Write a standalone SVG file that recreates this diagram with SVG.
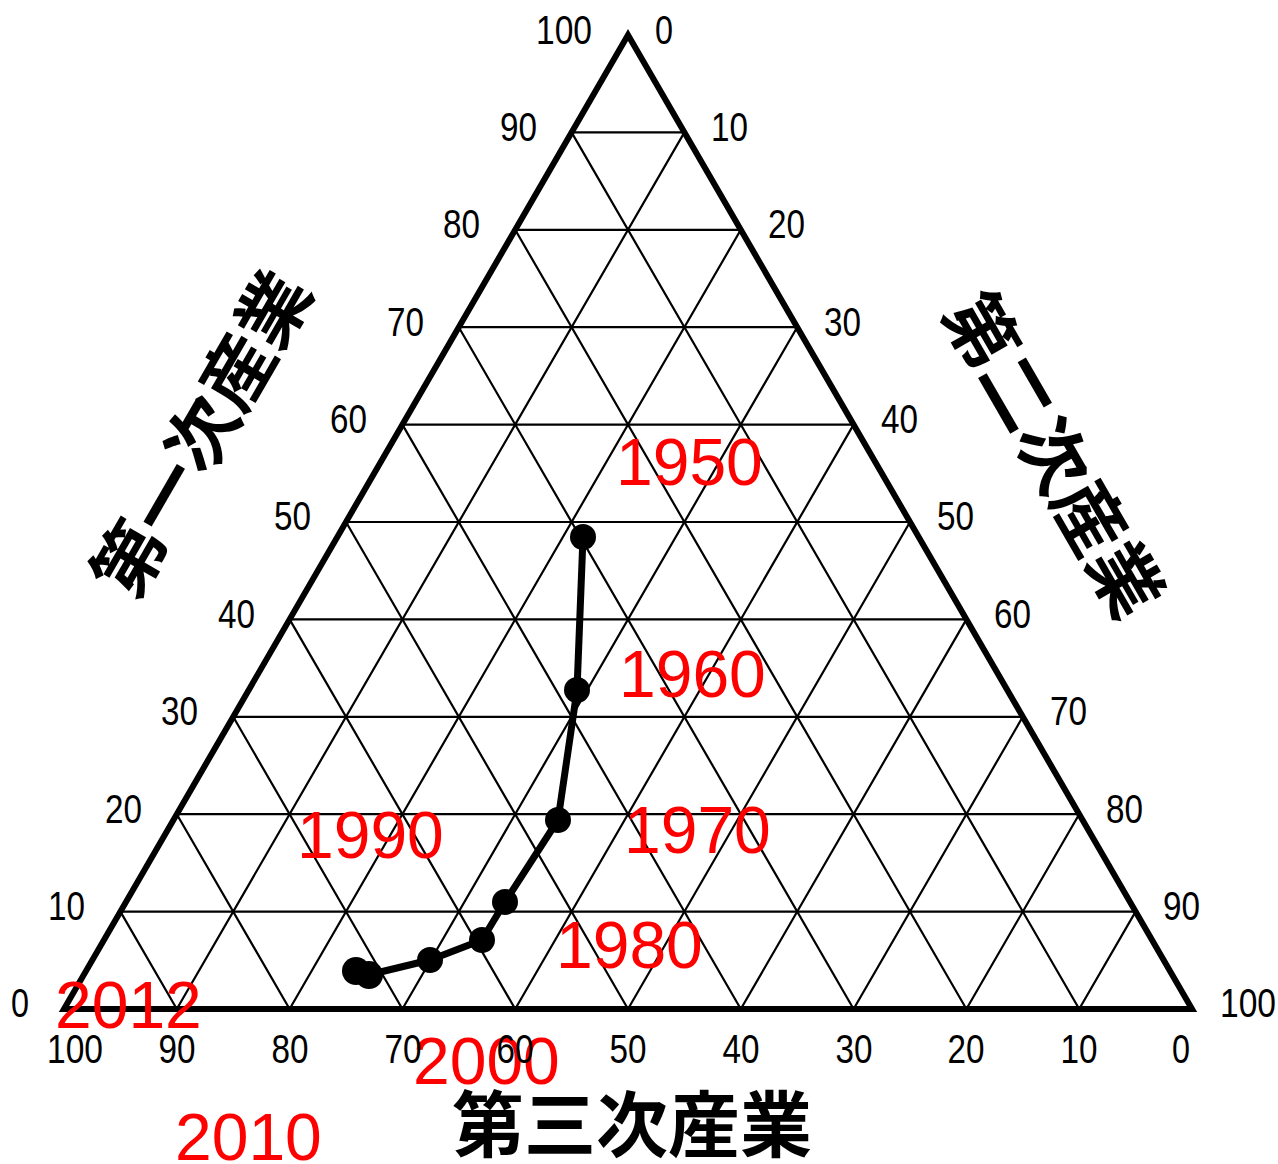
<svg xmlns="http://www.w3.org/2000/svg" width="1278" height="1164" viewBox="0 0 1278 1164">
<style>
.grid{stroke:#000;stroke-width:2.2;fill:none}
.edge{stroke:#000;stroke-width:6;fill:none;stroke-linejoin:miter;stroke-miterlimit:10}
.data{stroke:#000;stroke-width:7;fill:none;stroke-linejoin:round}
.pt{fill:#000}
.tick{font-family:"Liberation Sans",Arial,sans-serif;font-size:40px;fill:#000}
.yr{font-family:"Liberation Sans",Arial,sans-serif;font-size:66px;fill:#ff0000}
.ttl{font-family:"Noto Sans CJK JP","Noto Sans CJK SC",sans-serif;font-size:72px;font-weight:700;fill:#000}
</style>
<rect width="1278" height="1164" fill="#fff"/>
<g id="connectors">
<g id="grid">
<path class="grid" d="M571.6,132.4H684.4M515.2,229.8H740.8M458.8,327.2H797.2M402.4,424.6H853.6M346,522H910M289.6,619.4H966.4M233.2,716.8H1022.8M176.8,814.2H1079.2M120.4,911.6H1135.6"/>
<path class="grid" d="M176.8,1009L684.4,132.4M289.6,1009L740.8,229.8M402.4,1009L797.2,327.2M515.2,1009L853.6,424.6M628,1009L910,522M740.8,1009L966.4,619.4M853.6,1009L1022.8,716.8M966.4,1009L1079.2,814.2M1079.2,1009L1135.6,911.6"/>
<path class="grid" d="M176.8,1009L120.4,911.6M289.6,1009L176.8,814.2M402.4,1009L233.2,716.8M515.2,1009L289.6,619.4M628,1009L346,522M740.8,1009L402.4,424.6M853.6,1009L458.8,327.2M966.4,1009L515.2,229.8M1079.2,1009L571.6,132.4"/>
</g>
<polygon id="frame" class="edge" points="628,35 1192,1009 64,1009"/>
<polyline id="trend" class="data" points="583,537 577,690 558,820 505,902 482,940 430,960 368,975 356,971"/>
</g>
<g id="points">
<circle class="pt" cx="583" cy="537" r="13"/>
<circle class="pt" cx="577" cy="690" r="13"/>
<circle class="pt" cx="558" cy="820" r="13"/>
<circle class="pt" cx="505" cy="902" r="13"/>
<circle class="pt" cx="482" cy="940" r="13"/>
<circle class="pt" cx="430" cy="960" r="13"/>
<circle class="pt" cx="369" cy="975" r="14"/>
<circle class="pt" cx="356" cy="971" r="14"/>
</g>
<g id="years">
<text class="yr" x="616" y="485">1950</text>
<text class="yr" x="619" y="697">1960</text>
<text class="yr" x="624" y="853">1970</text>
<text class="yr" x="556" y="968">1980</text>
<text class="yr" x="297" y="858">1990</text>
<text class="yr" x="413" y="1084">2000</text>
<text class="yr" x="175" y="1160">2010</text>
<text class="yr" x="55" y="1028">2012</text>
</g>
<g id="left-ticks" class="tick" text-anchor="end" lengthAdjust="spacingAndGlyphs">
<text x="592" y="44" textLength="56" lengthAdjust="spacingAndGlyphs">100</text>
<text x="537" y="141" textLength="37" lengthAdjust="spacingAndGlyphs">90</text>
<text x="480" y="238" textLength="37" lengthAdjust="spacingAndGlyphs">80</text>
<text x="424" y="336" textLength="37" lengthAdjust="spacingAndGlyphs">70</text>
<text x="367" y="433" textLength="37" lengthAdjust="spacingAndGlyphs">60</text>
<text x="311" y="530" textLength="37" lengthAdjust="spacingAndGlyphs">50</text>
<text x="255" y="628" textLength="37" lengthAdjust="spacingAndGlyphs">40</text>
<text x="198" y="725" textLength="37" lengthAdjust="spacingAndGlyphs">30</text>
<text x="142" y="823" textLength="37" lengthAdjust="spacingAndGlyphs">20</text>
<text x="85" y="920" textLength="37" lengthAdjust="spacingAndGlyphs">10</text>
<text x="29" y="1017" textLength="18" lengthAdjust="spacingAndGlyphs">0</text>
</g>
<g id="right-ticks" class="tick" text-anchor="start">
<text x="655" y="44" textLength="18" lengthAdjust="spacingAndGlyphs">0</text>
<text x="711" y="141" textLength="37" lengthAdjust="spacingAndGlyphs">10</text>
<text x="768" y="238" textLength="37" lengthAdjust="spacingAndGlyphs">20</text>
<text x="824" y="336" textLength="37" lengthAdjust="spacingAndGlyphs">30</text>
<text x="881" y="433" textLength="37" lengthAdjust="spacingAndGlyphs">40</text>
<text x="937" y="530" textLength="37" lengthAdjust="spacingAndGlyphs">50</text>
<text x="994" y="628" textLength="37" lengthAdjust="spacingAndGlyphs">60</text>
<text x="1050" y="725" textLength="37" lengthAdjust="spacingAndGlyphs">70</text>
<text x="1106" y="823" textLength="37" lengthAdjust="spacingAndGlyphs">80</text>
<text x="1163" y="920" textLength="37" lengthAdjust="spacingAndGlyphs">90</text>
<text x="1220" y="1017" textLength="56" lengthAdjust="spacingAndGlyphs">100</text>
</g>
<g id="bottom-ticks" class="tick" text-anchor="middle">
<text x="75" y="1063" textLength="56" lengthAdjust="spacingAndGlyphs">100</text>
<text x="177" y="1063" textLength="37" lengthAdjust="spacingAndGlyphs">90</text>
<text x="290" y="1063" textLength="37" lengthAdjust="spacingAndGlyphs">80</text>
<text x="403" y="1063" textLength="37" lengthAdjust="spacingAndGlyphs">70</text>
<text x="515" y="1063" textLength="37" lengthAdjust="spacingAndGlyphs">60</text>
<text x="628" y="1063" textLength="37" lengthAdjust="spacingAndGlyphs">50</text>
<text x="741" y="1063" textLength="37" lengthAdjust="spacingAndGlyphs">40</text>
<text x="854" y="1063" textLength="37" lengthAdjust="spacingAndGlyphs">30</text>
<text x="966" y="1063" textLength="37" lengthAdjust="spacingAndGlyphs">20</text>
<text x="1079" y="1063" textLength="37" lengthAdjust="spacingAndGlyphs">10</text>
<text x="1181" y="1063" textLength="18" lengthAdjust="spacingAndGlyphs">0</text>
</g>
<g id="titles" class="ttl" text-anchor="middle">
<text transform="translate(202,434) rotate(-60)" x="0" y="26">第一次産業</text>
<text transform="translate(1053,455) rotate(60)" x="0" y="26">第二次産業</text>
<text x="632" y="1151">第三次産業</text>
</g>
</svg>
